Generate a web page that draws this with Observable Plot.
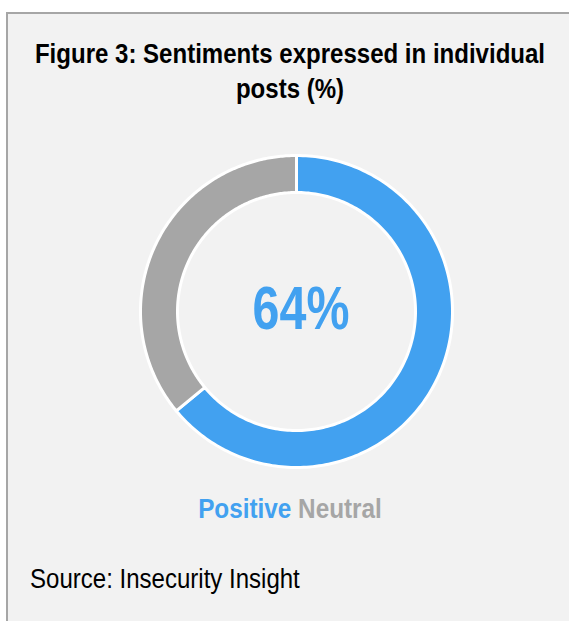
<!DOCTYPE html>
<html>
<head>
<meta charset="utf-8">
<script src="https://cdn.jsdelivr.net/npm/d3@7"></script>
<script src="https://cdn.jsdelivr.net/npm/@observablehq/plot@0.6"></script>
<style>
  html, body { margin: 0; padding: 0; background: #ffffff; width: 569px; height: 621px; overflow: hidden; }
  body { position: relative; font-family: "Liberation Sans", Arial, sans-serif; }
  #box { position: absolute; left: 6px; top: 12px; width: 620px; height: 640px; background: #f2f2f2; border: 2px solid #a6a6a6; box-sizing: border-box; }
  #title { position: absolute; left: -100px; top: 37px; width: 780px; text-align: center; font-weight: bold; font-size: 27px; line-height: 35px; color: #000; transform: scaleX(0.89); transform-origin: 390px 0; }
  #chart { position: absolute; left: 0; top: 130px; }
  #legend { position: absolute; left: 0; top: 494px; width: 580px; text-align: center; font-weight: bold; font-size: 27px; transform: scaleX(0.9); transform-origin: 290px 0; }
  #source { position: absolute; left: 30px; top: 564px; font-size: 27px; color: #000; transform: scaleX(0.89); transform-origin: 0 0; white-space: nowrap; }
</style>
</head>
<body>
<div id="box"></div>
<div id="title">Figure 3: Sentiments expressed in individual<br>posts (%)</div>
<div id="chart"></div>
<div id="legend"></div>
<div id="source">Source: Insecurity Insight</div>
<script>
const categories = ["Positive", "Neutral"];
const values = [64, 36];
const colors = ["#42a1f0", "#a6a6a6"];
const centerLabel = ["64%"];

const innerRatio = 119 / 156;
const data = categories.map((c, i) => ({category: c, value: values[i]}));
const arcs = d3.pie().sort(null).value(d => d.value)(data);
const pts = [];
for (const a of arcs) {
  const n = 200;
  for (let k = 0; k <= n; k++) {
    const t = a.startAngle + (a.endAngle - a.startAngle) * k / n;
    pts.push({category: a.data.category, x: Math.sin(t), y: Math.cos(t)});
  }
  for (let k = n; k >= 0; k--) {
    const t = a.startAngle + (a.endAngle - a.startAngle) * k / n;
    pts.push({category: a.data.category, x: innerRatio * Math.sin(t), y: innerRatio * Math.cos(t)});
  }
}

const cx = 296, cy = 181, R = 156;
const chart = Plot.plot({
  width: 569,
  height: 360,
  margin: 0,
  x: {domain: [-1, 1], range: [cx - R, cx + R], axis: null},
  y: {domain: [-1, 1], range: [cy + R, cy - R], axis: null},
  color: {domain: categories, range: colors},
  style: {background: "transparent", fontFamily: "'Liberation Sans', Arial, sans-serif"},
  marks: [
    Plot.line(pts, {x: "x", y: "y", z: "category", fill: "category", stroke: "#ffffff", strokeWidth: 3, curve: "linear-closed"}),
    Plot.text(centerLabel, {x: () => 0, y: () => 0, text: d => d, fill: colors[0], fontSize: 62, fontWeight: "bold"})
  ]
});
// condense the centre label horizontally to mimic a narrow typeface
chart.querySelectorAll('g[aria-label="text"]').forEach(g => {
  g.setAttribute("transform", `translate(${cx + 5},-2) scale(0.78,1) translate(${-cx},0)`);
});
document.getElementById("chart").appendChild(chart);

const legend = document.getElementById("legend");
categories.forEach((c, i) => {
  const s = document.createElement("span");
  s.textContent = c;
  s.style.color = colors[i];
  legend.appendChild(s);
  if (i < categories.length - 1) legend.appendChild(document.createTextNode(" "));
});
</script>
</body>
</html>
